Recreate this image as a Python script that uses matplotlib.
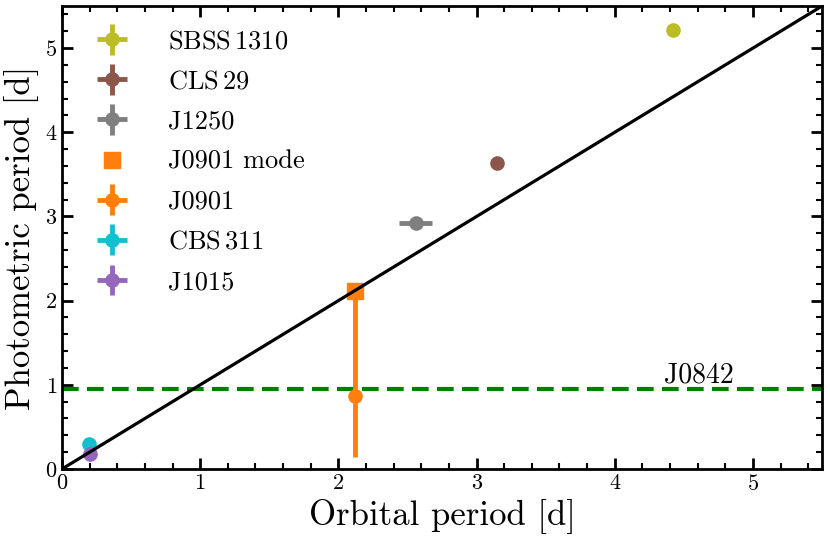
import numpy as np
import matplotlib
matplotlib.use('Agg')
import matplotlib.pyplot as plt
from matplotlib.container import ErrorbarContainer
from matplotlib.legend_handler import HandlerErrorbar

plt.rcParams['font.family'] = 'serif'
plt.rcParams['font.serif'] = ['cmr10']
plt.rcParams['mathtext.fontset'] = 'cm'
plt.rcParams['axes.formatter.use_mathtext'] = True

# orbital period, photometric period and errors [d]
names = ['SBSS$\\,$1310', 'CLS$\\,$29', 'J1250', 'J0901', 'CBS$\\,$311', 'J1015']
colors = ['tab:olive', 'tab:brown', 'tab:gray', 'tab:orange', 'tab:cyan', 'tab:purple']
p_orb = [4.42, 3.15, 2.56, 2.12, 0.193, 0.205]
p_orb_err = [0.0, 0.0, 0.12, 0.0, 0.0, 0.0]
p_phot = [5.21, 3.63, 2.92, 0.87, 0.293, 0.18]
p_phot_err_lo = [0.0, 0.0, 0.0, 0.73, 0.0, 0.0]
p_phot_err_hi = [0.0, 0.0, 0.0, 1.25, 0.0, 0.0]

j0901_mode = 2.12
j0842_phot = 0.95

fig = plt.figure(figsize=(8.3, 5.47), dpi=100)
ax = fig.add_axes([0.0747, 0.1426, 0.9157, 0.8464])

handles = []
for i in range(len(names)):
    if names[i] == 'J0901':
        h = ax.plot(p_orb[i], j0901_mode, 's', color=colors[i], ms=11.5,
                    label='J0901 mode', zorder=3)[0]
        handles.append(h)
    h = ax.errorbar(p_orb[i], p_phot[i], xerr=[[p_orb_err[i]], [p_orb_err[i]]],
                    yerr=[[p_phot_err_lo[i]], [p_phot_err_hi[i]]],
                    fmt='o', color=colors[i], ms=9.5, elinewidth=3.5, capsize=0,
                    label=names[i], zorder=2)
    handles.append(h)

xx = np.array([0, 5.5])
ax.plot(xx, xx, color='black', lw=2.3, zorder=4)
ax.axhline(j0842_phot, color='green', lw=3, dashes=(4, 2), zorder=1)
ax.text(4.36, 1.03, 'J0842', fontsize=20)

ax.set_xlim(0, 5.5)
ax.set_ylim(0, 5.5)
ax.set_xlabel('Orbital period [d]', fontsize=25)
ax.set_ylabel('Photometric period [d]', fontsize=25)
ax.set_xticks([0, 1, 2, 3, 4, 5])
ax.set_yticks([0, 1, 2, 3, 4, 5])
ax.minorticks_on()
ax.xaxis.set_minor_locator(matplotlib.ticker.MultipleLocator(0.2))
ax.yaxis.set_minor_locator(matplotlib.ticker.MultipleLocator(0.2))
ax.tick_params(which='both', direction='in', top=True, right=True, labelsize=16)
ax.tick_params(which='major', length=8, width=2)
ax.tick_params(which='minor', length=4, width=1.5)
for s in ax.spines.values():
    s.set_linewidth(2)

ax.legend(handles=handles, loc='upper left', frameon=False, fontsize=19,
          handletextpad=1.1, labelspacing=0.62,
          handler_map={ErrorbarContainer: HandlerErrorbar(xerr_size=0.58)})

plt.savefig('out.png', dpi=100)
